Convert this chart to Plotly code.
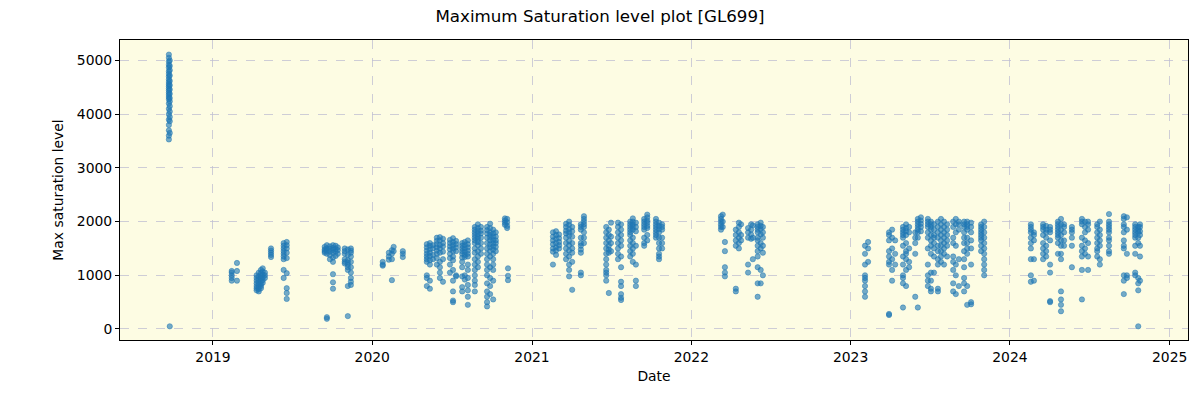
import plotly.graph_objects as go

# Observation dates (one entry per visible column of points)
obs_dates = [
    "2018-09-22", "2018-09-24",
    "2019-02-13", "2019-02-25", "2019-04-11", "2019-04-16", "2019-04-21", "2019-04-25", "2019-04-30",
    "2019-05-14", "2019-06-12", "2019-06-19",
    "2019-09-14", "2019-09-19", "2019-09-26", "2019-10-03", "2019-10-09", "2019-10-14",
    "2019-10-30", "2019-11-06", "2019-11-13",
    "2020-01-25", "2020-02-08", "2020-02-15", "2020-02-19", "2020-03-11",
    "2020-05-05", "2020-05-12", "2020-05-19", "2020-05-28", "2020-06-04", "2020-06-11",
    "2020-06-27", "2020-07-04", "2020-07-11", "2020-07-25", "2020-07-31", "2020-08-07",
    "2020-08-23", "2020-08-30", "2020-09-06", "2020-09-20", "2020-09-27", "2020-10-04", "2020-10-10",
    "2020-10-31", "2020-11-05", "2020-11-07",
    "2021-02-18", "2021-02-25", "2021-03-04", "2021-03-20", "2021-03-27", "2021-04-03",
    "2021-04-23", "2021-04-30", "2021-06-20", "2021-06-26", "2021-07-01", "2021-07-17", "2021-07-24",
    "2021-08-14", "2021-08-20", "2021-08-27", "2021-09-15", "2021-09-22",
    "2021-10-12", "2021-10-19", "2021-10-26",
    "2022-03-10", "2022-03-14", "2022-03-19", "2022-04-13", "2022-04-20", "2022-04-25",
    "2022-05-11", "2022-05-18", "2022-05-22", "2022-06-02", "2022-06-09", "2022-06-14",
    "2023-02-03", "2023-02-10", "2023-03-30", "2023-04-06", "2023-04-13",
    "2023-05-01", "2023-05-08", "2023-05-15", "2023-05-29", "2023-06-04", "2023-06-11",
    "2023-06-27", "2023-07-04", "2023-07-11", "2023-07-20", "2023-07-27", "2023-08-03", "2023-08-10",
    "2023-08-24", "2023-08-30", "2023-09-06", "2023-09-18", "2023-09-25", "2023-10-04",
    "2023-10-27", "2023-11-03",
    "2024-02-18", "2024-02-25", "2024-03-17", "2024-03-24", "2024-04-02",
    "2024-04-20", "2024-04-27", "2024-05-04", "2024-05-22",
    "2024-06-14", "2024-06-21", "2024-06-28", "2024-07-19", "2024-07-25", "2024-08-15",
    "2024-09-18", "2024-09-25", "2024-10-14", "2024-10-21", "2024-10-25",
]

# Max saturation levels recorded on each of the dates above
obs_values = [
    [5110, 5050, 4980, 4920, 4870, 4800, 4750, 4700, 4650, 4600, 4560, 4520, 4480, 4440, 4400,
     4360, 4320, 4280, 4200, 4100, 4000, 3900, 3800, 3700, 3600, 3530],
    [5000, 4900, 4820, 4720, 4620, 4540, 4460, 4380, 4300, 4240, 4150, 4050, 3950, 3870, 3650, 50],
    [1050, 1000, 950, 900, 1080],
    [1230, 1080, 900],
    [1000, 950, 900, 850, 800, 760, 720],
    [1050, 980, 920, 870, 820, 780, 740, 700],
    [1100, 1040, 990, 940, 890, 840, 800, 760],
    [1130, 1070, 1010, 960, 910, 860],
    [1050, 1000, 950],
    [1500, 1460, 1420, 1380, 1340],
    [1600, 1550, 1500, 1450, 1400, 1350, 1300, 1100, 950],
    [1620, 1560, 1500, 1420, 1320, 1040, 760, 670, 560],
    [1530, 1480, 1450, 1420],
    [1560, 1500, 1460, 1400, 220, 190],
    [1540, 1490, 1440, 1380, 1300],
    [1560, 1510, 1470, 1420, 1330, 1250, 1020, 870, 750],
    [1550, 1490, 1440, 1360],
    [1520, 1470, 1400],
    [1500, 1450, 1400, 1300, 1250, 1220],
    [1480, 1380, 1280, 1240, 1200, 1150, 1100, 800, 240],
    [1500, 1460, 1420, 1350, 1250, 1150, 1050, 950, 880, 820],
    [1250, 1200, 1180],
    [1420, 1350, 1290],
    [1470, 1400, 1300, 910],
    [1530, 1450],
    [1450, 1400, 1340],
    [1580, 1520, 1460, 1400, 1350, 1300, 1250, 1000, 950, 800],
    [1600, 1550, 1480, 1420, 1360, 1280, 1200, 900, 750],
    [1560, 1500, 1380, 1300],
    [1700, 1640, 1580, 1520, 1460, 1400, 1320, 1200],
    [1710, 1650, 1560, 1500, 1420, 1250, 1150, 1050, 950],
    [1680, 1600, 1540, 1440, 1300, 880],
    [1660, 1600, 1540, 1480, 1400, 1320, 1200, 1050],
    [1690, 1620, 1560, 1500, 1450, 1350, 1280, 1100, 900, 700, 530, 500],
    [1640, 1580, 1520, 1450, 1000, 980],
    [1600, 1550, 1500, 1450, 1400, 1330, 1250, 1150, 980, 780, 700],
    [1620, 1560, 1500, 1440, 1380, 1340, 1000, 920],
    [1650, 1580, 1520, 1460, 1400, 1350, 1200, 1100, 950, 820, 720, 600, 450],
    [1900, 1850, 1800, 1750, 1700, 1650, 1600, 1500, 1420, 1300, 1200, 1100, 1000, 900, 820, 700],
    [1950, 1880, 1820, 1770, 1720, 1680, 1620, 1560, 1450, 1350, 1250, 1150],
    [1900, 1830, 1780, 1700, 1600, 1500, 1400],
    [1900, 1840, 1780, 1700, 1600, 1500, 1400, 1300, 1200, 1100, 1000, 850, 700, 600, 500, 420],
    [1960, 1880, 1800, 1750, 1700, 1650, 1580, 1520, 1450, 1350, 1150, 950, 800, 650],
    [1850, 1780, 1720, 1660, 1600, 1540, 1480, 1400, 1300, 1200, 1100, 900, 550],
    [1800, 1720, 1650, 1600, 1530, 1450],
    [2060, 2020, 1980, 1940],
    [2050, 1990, 1920, 1880],
    [1130, 990, 910],
    [1800, 1720, 1650, 1580, 1500, 1440, 1200],
    [1820, 1750, 1680, 1600, 1520, 1460, 1380],
    [1760, 1690, 1620, 1560, 1500],
    [1960, 1900, 1830, 1780, 1700, 1600, 1500, 1400, 1300],
    [2000, 1940, 1860, 1800, 1740, 1640, 1560, 1460, 1350, 1200, 1100, 980],
    [1900, 1820, 1720, 1600, 1500, 1420, 1250, 730],
    [1950, 1900, 1850, 1700, 1600, 1550, 1480, 1420, 1000, 1050],
    [2100, 2050, 2000, 1950, 1900, 1800, 1700, 1600],
    [1900, 1800, 1700, 1600, 1500, 1400, 1300, 1200, 1100, 1050, 1000, 900],
    [1850, 1750, 1650, 1550, 1480, 1420, 670],
    [1980, 1720, 1600, 1450],
    [1980, 1900, 1800, 1700, 1600, 1500, 1400, 1300],
    [1950, 1850, 1750, 1650, 1550, 1350, 1150, 880, 800, 650, 580, 540],
    [2000, 1950, 1900, 1850, 1800, 1750, 1650, 1550, 1450, 1350],
    [2060, 2000, 1950, 1900, 1850, 1700, 1600, 1500, 1400, 1250],
    [1980, 1900, 1820, 1550, 1200, 900, 800],
    [2050, 2000, 1950, 1900, 1850, 1700, 1600, 1550],
    [2130, 2080, 2020, 1980, 1920, 1880, 1750, 1650],
    [2050, 2000, 1950, 1900, 1850, 1800, 1750, 1700],
    [1980, 1920, 1860, 1800, 1700, 1600, 1500, 1400, 1350, 1300],
    [1950, 1900, 1850, 1700, 1600, 1500],
    [2100, 2050, 2000, 1950, 1900, 1850],
    [2130, 2000, 1900],
    [1620, 1450, 1150, 1050, 980],
    [1850, 1750, 1650, 1550, 750, 700],
    [1980, 1900, 1800, 1700, 1600, 1500],
    [1950, 1750, 1650],
    [1880, 1800, 1700, 1200, 1050],
    [1950, 1850, 1760, 1680],
    [1930, 1700, 1300],
    [1950, 1900, 1850, 1800, 1700, 1650, 1550, 1450, 1350, 1150, 850, 600],
    [1980, 1920, 1860, 1760, 1600, 1500, 1100, 850],
    [1900, 1800, 1700, 1550, 1420, 1000],
    [1550, 1400, 1200, 1000, 950, 900, 800, 700, 600],
    [1620, 1500, 1250],
    [1800, 1750, 1650, 1450, 1350, 1250, 1200, 260, 280],
    [1850, 1700, 1500, 1300, 1100, 900],
    [1650, 1400, 1200],
    [1900, 1850, 1800, 1750, 1700, 1550, 1350, 1200, 1000, 950, 850, 400],
    [1950, 1880, 1820, 1750, 1600, 1450, 1400, 1300, 1100, 800],
    [1900, 1800, 1500, 1250, 1150],
    [1800, 1700, 1600, 1400, 600],
    [2050, 2000, 1950, 1900, 1850, 1800, 1700, 400],
    [2080, 2020, 1960, 1900, 1820],
    [2050, 2000, 1950, 1900, 1800, 1700, 1500, 1200, 1000, 900, 800],
    [2000, 1950, 1900, 1850, 1750, 1650, 1550, 1400, 1050, 900, 750, 700],
    [1950, 1850, 1750, 1700, 1600, 1500, 1350, 1050],
    [2000, 1900, 1800, 1700, 1550, 1450, 1300, 1200, 750, 700],
    [2050, 1950, 1850, 1750, 1650, 1550, 1450, 1350, 1250],
    [2000, 1900, 1800, 1700, 1600, 1500, 1400, 1200],
    [1950, 1850, 1750, 1650, 1550, 1350],
    [2000, 1900, 1700, 1600, 1350, 1250, 1100, 850, 700],
    [2050, 1950, 1800, 1550, 1200, 1000, 650],
    [2000, 1950, 1850, 1300, 800],
    [2000, 1950, 1900, 1800, 1700, 1600, 1450, 1300, 1150, 950, 850, 700],
    [2000, 1950, 1900, 1850, 1700, 1600, 1500, 1400, 800, 450],
    [1980, 1900, 1800, 1650, 1500, 1200, 500, 460],
    [1950, 1900, 1850, 1800, 1750, 1700, 1650, 1550, 1450],
    [2000, 1900, 1800, 1700, 1600, 1500, 1400, 1300, 1200, 1100, 1000],
    [1950, 1900, 1850, 1800, 1700, 1600, 1500, 1300, 1000, 880],
    [1800, 1750, 1650, 1300, 900],
    [1950, 1900, 1850, 1750, 1600, 1500, 1400, 1300],
    [1920, 1850, 1800, 1700, 1550, 1450, 1350],
    [1900, 1850, 1800, 1650, 1200, 1050, 500, 520],
    [2000, 1950, 1900, 1850, 1800, 1750, 1700, 1600, 1400],
    [2050, 1950, 1850, 1750, 1650, 1550, 1400, 1300, 700, 550, 450, 330],
    [1950, 1900, 1800, 1650, 1550],
    [1900, 1850, 1800, 1700, 1550, 1150],
    [2050, 2000, 1950, 1700, 1550, 1450, 1350, 1100, 550],
    [2000, 1900, 1800, 1650, 1500, 1400],
    [2000, 1950, 1850, 1600, 1350, 1100],
    [1950, 1900, 1800, 1700, 1600, 1500, 1450, 1350],
    [2000, 1850, 1750, 1650, 1550, 1300, 1200],
    [2140, 2000, 1950, 1900, 1850, 1800, 1700, 1650, 1550, 1450, 1400],
    [2100, 2050, 1950, 1900, 1800, 1650, 1550, 1500, 1000, 900, 650],
    [2080, 1850, 1400, 1000, 950],
    [1950, 1900, 1850, 1800, 1750, 1700, 1550, 1400, 1050, 1000],
    [1900, 1850, 1800, 1700, 1600, 950, 850, 720, 50],
    [1950, 1900, 1820, 1750, 1550, 1350, 900],
]

x_pts, y_pts = [], []
for d, vals in zip(obs_dates, obs_values):
    for v in vals:
        x_pts.append(d)
        y_pts.append(v)

fig = go.Figure()
fig.add_trace(go.Scatter(
    x=x_pts, y=y_pts, mode="markers",
    marker=dict(size=5.3, color="rgba(31,119,180,0.62)",
                line=dict(width=0.6, color="rgba(31,119,180,0.8)")),
    showlegend=False, hoverinfo="x+y",
))

axis_common = dict(
    showline=True, linecolor="black", linewidth=1, mirror=True,
    ticks="outside", ticklen=4, tickcolor="black",
    showgrid=True, gridcolor="rgba(190,190,210,0.75)", griddash="dash", gridwidth=1,
    zeroline=False, automargin=False,
    tickfont=dict(family="DejaVu Sans", size=13.9, color="black"),
)

fig.update_layout(
    width=1200, height=400,
    margin=dict(l=120, r=12, t=40, b=60),
    paper_bgcolor="white",
    plot_bgcolor="#fdfce3",
    font=dict(family="DejaVu Sans", color="black"),
    title=dict(text="Maximum Saturation level plot [GL699]", x=0.5, xanchor="center",
               xref="container", yref="container",
               y=0.96, yanchor="middle",
               font=dict(size=16.7, family="DejaVu Sans", color="black")),
    xaxis=dict(axis_common, type="date", range=["2018-06-02", "2025-02-12"],
               tickvals=["2019-01-01", "2020-01-01", "2021-01-01", "2022-01-01",
                         "2023-01-01", "2024-01-01", "2025-01-01"],
               ticktext=["2019", "2020", "2021", "2022", "2023", "2024", "2025"],
               title=dict(text="Date", font=dict(size=13.9, family="DejaVu Sans"), standoff=7)),
    yaxis=dict(axis_common, range=[-205, 5382], tickvals=[0, 1000, 2000, 3000, 4000, 5000],
               title=dict(text="Max saturation level", font=dict(size=13.9, family="DejaVu Sans"), standoff=9)),
)

fig.write_html("out.html", config={"displayModeBar": False},
               post_script="document.body.style.margin='0';")
